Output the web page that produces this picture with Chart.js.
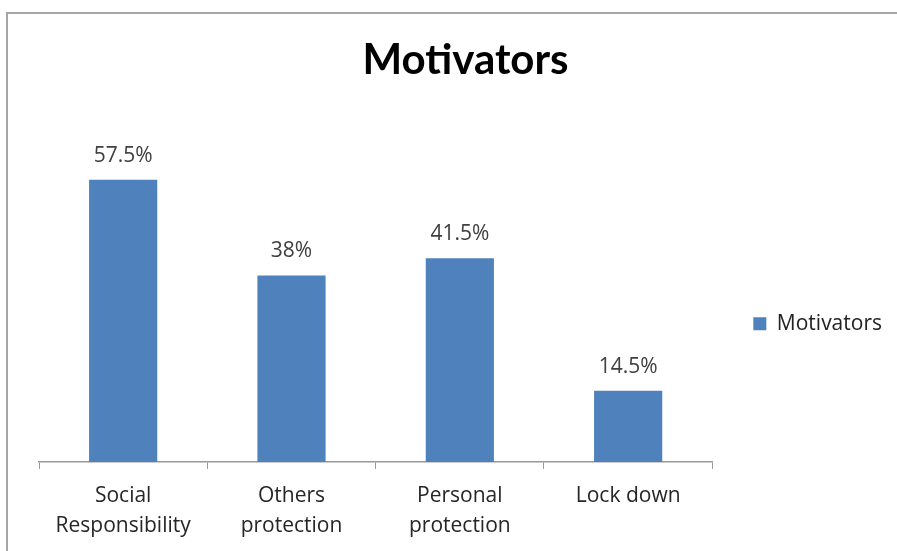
<!DOCTYPE html>
<html>
<head>
<meta charset="utf-8">
<script src="https://cdn.jsdelivr.net/npm/chart.js@4.4.1/dist/chart.umd.min.js"></script>
<style>
    body { margin: 0; background: #fff; overflow: hidden; }
    #marco { position: absolute; left: 6px; top: 12px; width: 1000px; height: 1000px; border: 2px solid #a6a6a6; box-sizing: border-box; }
    #lienzo { position: absolute; left: 0; top: 0; }
</style>
</head>
<body>
<div id="marco"></div>
<canvas id="lienzo" width="897" height="551"></canvas>
<script>
const categorias = [['Social', 'Responsibility'], ['Others', 'protection'], ['Personal', 'protection'], 'Lock down'];
const valores = [57.5, 38, 41.5, 14.5];
const etiquetas = ['57.5%', '38%', '41.5%', '14.5%'];
const nombreSerie = 'Motivators';

const fuente = '"Open Sans", Lato, sans-serif';
const fuenteTitulo = 'Lato, "Open Sans", sans-serif';

// etiquetas de valor encima de cada barra
const etiquetasBarras = {
    id: 'etiquetasBarras',
    afterDatasetsDraw(chart) {
        const ctx = chart.ctx;
        const meta = chart.getDatasetMeta(0);
        ctx.save();
        ctx.font = '21px ' + fuente;
        ctx.fillStyle = '#404040';
        ctx.textAlign = 'center';
        ctx.textBaseline = 'alphabetic';
        meta.data.forEach((bar, i) => {
            ctx.fillText(etiquetas[i], bar.x, bar.y - 18);
        });
        ctx.restore();
    }
};

new Chart(document.getElementById('lienzo').getContext('2d'), {
    type: 'bar',
    data: {
        labels: categorias,
        datasets: [{
            label: nombreSerie,
            data: valores,
            backgroundColor: '#4f81bd',
            categoryPercentage: 1,
            barPercentage: 0.405
        }]
    },
    options: {
        responsive: false,
        animation: false,
        layout: { padding: { top: 12, left: 39, right: 5, bottom: -2 } },
        plugins: {
            title: {
                display: true,
                text: 'Motivators',
                color: '#000',
                font: { family: fuenteTitulo, size: 42, weight: 'bold' },
                padding: { top: 23, bottom: 33 }
            },
            legend: {
                position: 'right',
                title: { display: true, text: '', padding: 34, font: { size: 12 } },
                labels: {
                    boxWidth: 13,
                    boxHeight: 13,
                    padding: 41,
                    color: '#222',
                    font: { family: fuente, size: 21 }
                }
            },
            tooltip: { enabled: false }
        },
        scales: {
            x: {
                grid: { display: true, drawOnChartArea: false, drawTicks: true, tickLength: 7, color: '#999' },
                border: { display: true, color: '#999', width: 1.5 },
                ticks: {
                    color: '#262626',
                    padding: 12,
                    maxRotation: 0,
                    font: { family: fuente, size: 21, lineHeight: 1.43 }
                }
            },
            y: {
                display: false,
                min: 0,
                max: 70
            }
        }
    },
    plugins: [etiquetasBarras]
});
</script>
</body>
</html>
